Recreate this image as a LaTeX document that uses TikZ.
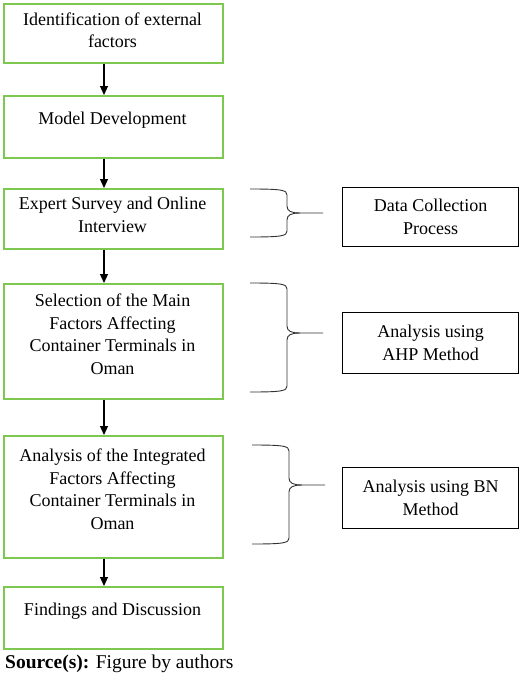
\documentclass[tikz,border=0pt]{standalone}
\usepackage{fontspec}
\setmainfont{Liberation Serif}
\usetikzlibrary{arrows.meta,positioning}
\definecolor{boxgreen}{RGB}{125,200,80}
\begin{document}
\begin{tikzpicture}[x=1pt,y=-1pt,
  gbox/.style={draw=boxgreen,line width=1.8pt,minimum width=219pt,inner sep=0pt,anchor=north west},
  kbox/.style={draw=black,line width=1.1pt,minimum width=176pt,inner sep=0pt,anchor=north west,
    font=\fontsize{18}{22.5}\selectfont,align=center},
  txt/.style={font=\fontsize{18}{22.5}\selectfont,align=center,inner sep=0pt},
  arr/.style={-{Triangle[length=9pt,width=8pt]},line width=1.1pt},
  brc/.style={line width=0.9pt,black!80}]
\useasboundingbox (0,0) rectangle (520,675);
% green boxes
\node[gbox,minimum height=59pt] (b1) at (3,3) {};
\node[gbox,minimum height=62pt] (b2) at (3,95) {};
\node[gbox,minimum height=60pt] (b3) at (3,188) {};
\node[gbox,minimum height=115pt] (b4) at (3,283) {};
\node[gbox,minimum height=122pt] (b5) at (3,435) {};
\node[gbox,minimum height=62pt] (b6) at (3,586) {};
% texts
\node[txt] (t1) at (112.5,30) {Identification of external\\factors};
\node[txt] (t2) at (112.5,120) {Model Development};
\node[txt] (t3) at (112.5,215) {Expert Survey and Online\\Interview};
\node[txt] (t4) at (112.5,334) {Selection of the Main\\Factors Affecting\\Container Terminals in\\Oman};
\node[txt] (t5) at (112.5,489) {Analysis of the Integrated\\Factors Affecting\\Container Terminals in\\Oman};
\node[txt] (t6) at (112.5,611) {Findings and Discussion};
% arrows
\coordinate (ax) at (104,0);
\draw[arr] (b1.south -| ax) -- (b2.north -| ax);
\draw[arr] (b2.south -| ax) -- (b3.north -| ax);
\draw[arr] (b3.south -| ax) -- (b4.north -| ax);
\draw[arr] (b4.south -| ax) -- (b5.north -| ax);
\draw[arr] (b5.south -| ax) -- (b6.north -| ax);
% right boxes
\node[kbox,minimum height=59pt] (r1) at (342,187) {Data Collection\\Process};
\node[kbox,minimum height=61pt] (r2) at (342,312) {Analysis using\\AHP Method};
\node[kbox,minimum height=61pt] (r3) at (342,467) {Analysis using BN\\Method};
% braces
\coordinate (k1) at (323,213);
\coordinate (k2) at (323,333);
\coordinate (k3) at (325,485);
\draw[brc] (250,189) .. controls (282,189) and (287,190) .. (287,195) -- (287,206)
  .. controls (287,211) and (291,213) .. (300,213) -- (k1);
\draw[brc] (300,213) .. controls (291,213) and (287,215) .. (287,220) -- (287,231)
  .. controls (287,236) and (282,237) .. (250,237);
\draw[brc] (250,283) .. controls (282,283) and (287,284) .. (287,289) -- (287,326)
  .. controls (287,331) and (291,333) .. (300,333) -- (k2);
\draw[brc] (300,333) .. controls (291,333) and (287,335) .. (287,340) -- (287,386)
  .. controls (287,391) and (282,392) .. (250,392);
\draw[brc] (252,445) .. controls (284,445) and (289,446) .. (289,451) -- (289,478)
  .. controls (289,483) and (293,485) .. (302,485) -- (k3);
\draw[brc] (302,485) .. controls (293,485) and (289,487) .. (289,492) -- (289,538)
  .. controls (289,543) and (284,544) .. (252,544);
% source
\node[anchor=base west,inner sep=0pt,font=\fontsize{19.5}{22}\selectfont] (src) at (5,668)
  {\textbf{Source(s):} Figure by authors};
\end{tikzpicture}
\end{document}
